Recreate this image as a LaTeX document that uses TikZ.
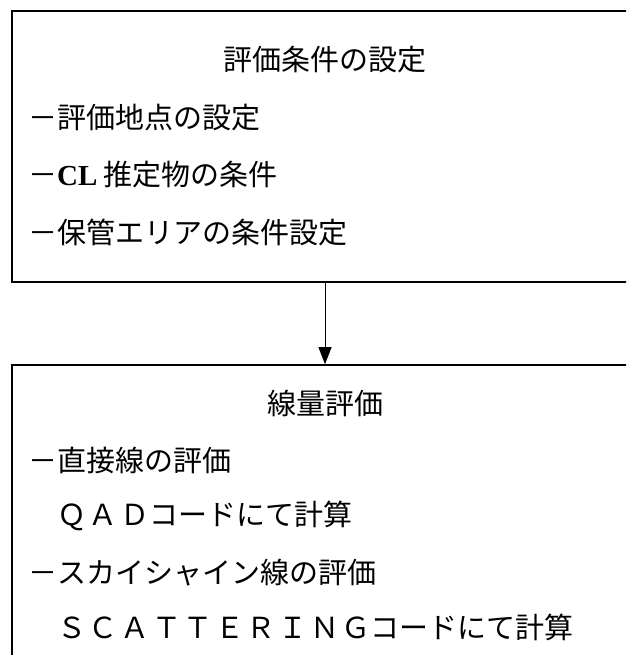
\documentclass[tikz,border=0pt]{standalone}
\usepackage{fontspec}
\setmainfont{Liberation Serif}
\newfontfamily\jp{Noto Sans CJK JP}
\newfontfamily\jpwide[LetterSpace=9]{Noto Sans CJK JP}
\usetikzlibrary{arrows.meta}
\tikzset{
  boxframe/.style={draw=black, line width=1.6pt, rectangle, inner sep=0pt},
  jtxt/.style={inner sep=0pt, font=\jp\fontsize{29}{32}\selectfont},
  leftline/.style={jtxt, anchor=west},
  conn/.style={draw=black, line width=0.9pt, -{Triangle[width=13pt,length=17pt]}}
}
\begin{document}
\begin{tikzpicture}[x=1pt,y=-1pt]
\useasboundingbox (0,0) rectangle (626,655);
\clip (0,0) rectangle (626,655);
\fill[white] (0,0) rectangle (626,655);
\node[boxframe, minimum width=626pt, minimum height=271pt] (box1) at (325,146.5) {};
\node[boxframe, minimum width=626pt, minimum height=330pt] (box2) at (325,530) {};
\node[jtxt] (t1) at (325,60) {評価条件の設定};
\node[leftline] (t2) at (28,118) {－評価地点の設定};
\node[leftline] (t3) at (28,175) {－{\rmfamily\bfseries CL} 推定物の条件};
\node[leftline] (t4) at (28,232) {－保管エリアの条件設定};
\node[jtxt] (b1) at (325,403) {線量評価};
\node[leftline] (b2) at (28,460) {－直接線の評価};
\node[leftline] (b3) at (28,516) {　{\jpwide ＱＡＤ}コードにて計算};
\node[leftline] (b4) at (28,573) {－スカイシャイン線の評価};
\node[leftline] (b5) at (28,627) {　{\jpwide ＳＣＡＴＴＥＲＩＮＧ}コードにて計算};
\draw[conn] (box1.south) -- (box2.north);
\end{tikzpicture}
\end{document}
